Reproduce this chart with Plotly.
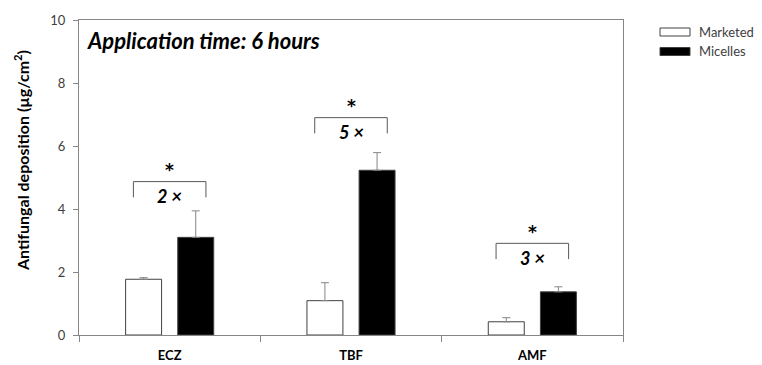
import plotly.graph_objects as go

categories = ["ECZ", "TBF", "AMF"]
series_names = ["Marketed", "Micelles"]
marketed = [1.77, 1.09, 0.42]
micelles = [3.10, 5.23, 1.37]
marketed_err = [0.05, 0.57, 0.13]
micelles_err = [0.84, 0.56, 0.16]
sig_bracket_top = [4.87, 6.90, 2.91]
fold_labels = ["2 ×", "5 ×", "3 ×"]
y_ticks = [0, 2, 4, 6, 8, 10]

# page is rendered with an 8px body margin, so the figure is 8px smaller
OFF = 8
W, H = 762 - OFF, 365 - OFF
L, R, T, B = 79, 623, 20, 335  # plot area in page pixels

def px(x):
    return (x - L) / (R - L)

def py(y):
    return (B - y) / (B - T)

FONT = "Lato"
GRAY = "#868686"

fig = go.Figure()
fig.add_bar(
    x=categories, y=marketed, name=series_names[0],
    marker=dict(color="white", line=dict(color="#404040", width=1)),
    error_y=dict(type="data", symmetric=False, array=marketed_err,
                 arrayminus=[0] * len(marketed_err), color=GRAY, thickness=1, width=4),
    showlegend=False,
)
fig.add_bar(
    x=categories, y=micelles, name=series_names[1],
    marker=dict(color="black", line=dict(color="#404040", width=1)),
    error_y=dict(type="data", symmetric=False, array=micelles_err,
                 arrayminus=[0] * len(micelles_err), color=GRAY, thickness=1, width=4),
    showlegend=False,
)

shapes = []
annotations = []
for i, top in enumerate(sig_bracket_top):
    x0, x1 = i - 0.2, i + 0.2
    shapes.append(dict(type="path", xref="x", yref="y",
                       path=f"M {x0} {top-0.5} L {x0} {top} L {x1} {top} L {x1} {top-0.5}",
                       line=dict(color="#595959", width=1)))
    annotations.append(dict(x=i, y=top + 0.36, xref="x", yref="y", text="<b>*</b>",
                            showarrow=False, font=dict(family="DejaVu Sans", size=17, color="black")))
    annotations.append(dict(x=i, y=top - 0.47, xref="x", yref="y", text=f"<b><i>{fold_labels[i]}</i></b>",
                            showarrow=False, font=dict(family=FONT, size=18, color="black")))

annotations.append(dict(x=px(85), y=py(40), xref="paper", yref="paper", xanchor="left", yanchor="middle",
                        text="<b><i>Application time: 6 hours</i></b>", showarrow=False,
                        font=dict(family=FONT, size=22, color="black")))

annotations.append(dict(x=px(21), y=py(161), xref="paper", yref="paper", xanchor="center", yanchor="middle",
                        textangle=-90, text="<b>Antifungal deposition (µg/cm<sup>2</sup>)</b>",
                        showarrow=False, font=dict(family=FONT, size=16, color="black")))

# legend drawn manually
leg_y = [32, 51.5]
leg_fill = ["white", "black"]
for name, yc, fill in zip(series_names, leg_y, leg_fill):
    shapes.append(dict(type="rect", xref="paper", yref="paper",
                       x0=px(660), x1=px(690), y0=py(yc - 4), y1=py(yc + 4),
                       fillcolor=fill, line=dict(color="#404040", width=1)))
    annotations.append(dict(x=px(697), y=py(yc), xref="paper", yref="paper", xanchor="left",
                            yanchor="middle", text=name, showarrow=False,
                            font=dict(family=FONT, size=13, color="#404040")))

fig.update_layout(
    width=W, height=H,
    margin=dict(l=L - OFF, r=W - (R - OFF), t=T - OFF, b=H - (B - OFF)),
    paper_bgcolor="white", plot_bgcolor="white",
    barmode="group", bargap=0.425, bargroupgap=0.31,
    shapes=shapes, annotations=annotations,
    font=dict(family=FONT, color="#404040"),
)
fig.update_xaxes(
    automargin=False,
    showgrid=False, showline=True, linecolor=GRAY, linewidth=1, mirror=True,
    ticks="outside", tickson="boundaries", ticklen=6, tickcolor=GRAY,
    tickfont=dict(family=FONT, size=13, color="black"),
    tickprefix="<b>", ticksuffix="</b>", ticklabelstandoff=8,
)
fig.update_yaxes(
    automargin=False,
    range=[0, 10], tickvals=y_ticks, showgrid=False, zeroline=False,
    showline=True, linecolor=GRAY, linewidth=1, mirror=True,
    ticks="outside", ticklen=5, tickcolor=GRAY,
    tickfont=dict(family=FONT, size=13, color="#404040"), ticklabelstandoff=5,
)

fig.write_html("out.html")
